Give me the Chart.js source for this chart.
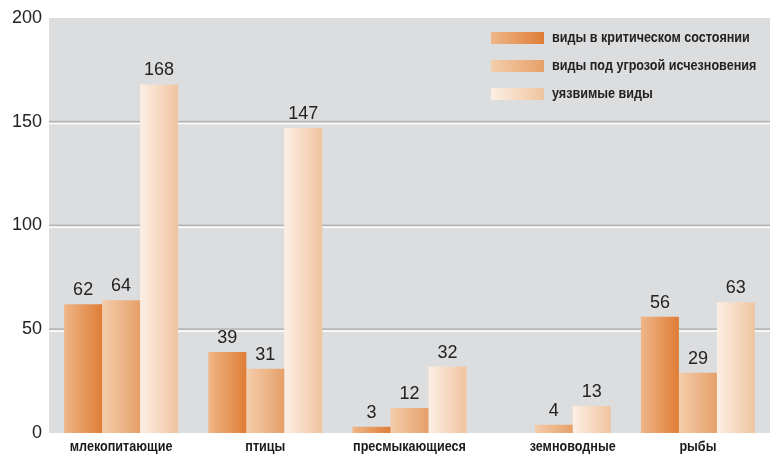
<!DOCTYPE html>
<html>
<head>
<meta charset="utf-8">
<script src="https://cdn.jsdelivr.net/npm/chart.js@4/dist/chart.umd.min.js"></script>
<style>
html,body{margin:0;padding:0;background:#fff;}
#wrap{width:777px;height:456px;position:relative;}
</style>
</head>
<body>
<div id="wrap"><canvas id="c" width="777" height="456"></canvas></div>
<script>
const categories = ['млекопитающие', 'птицы', 'пресмыкающиеся', 'земноводные', 'рыбы'];
const seriesNames = ['виды в критическом состоянии', 'виды под угрозой исчезновения', 'уязвимые виды'];
const critical = [62, 39, 3, null, 56];
const endangered = [64, 31, 12, 4, 29];
const vulnerable = [168, 147, 32, 13, 63];
const yTicks = [0, 50, 100, 150, 200];

const gradStops = [
  ['#EFB688', '#DF7D36'],
  ['#F4CDAC', '#E6A068'],
  ['#FCEFE4', '#EFC49F']
];
const CAT_PCT = 0.79;
const regFont = "'Liberation Sans', Arial, sans-serif";
const NARROW = 0.84;

function barGradient(c) {
  if (c.type !== 'data') return gradStops[c.datasetIndex][1];
  const chart = c.chart;
  const xs = chart.scales.x;
  if (!xs || !chart.chartArea) return gradStops[c.datasetIndex][1];
  const center = xs.getPixelForValue(c.dataIndex);
  const catW = xs.width / categories.length;
  const barW = catW * CAT_PCT / 3;
  const left = center - 1.5 * barW + c.datasetIndex * barW;
  const g = chart.ctx.createLinearGradient(left, 0, left + barW, 0);
  g.addColorStop(0, gradStops[c.datasetIndex][0]);
  g.addColorStop(1, gradStops[c.datasetIndex][1]);
  return g;
}

function narrowText(ctx, text, x, y, align) {
  const w = ctx.measureText(text).width * NARROW;
  let left = x;
  if (align === 'center') left = x - w / 2;
  ctx.save();
  ctx.translate(left, y);
  ctx.scale(NARROW, 1);
  ctx.textAlign = 'left';
  ctx.fillText(text, 0, 0);
  ctx.restore();
}

const bgPlugin = {
  id: 'bgPlugin',
  beforeDraw(chart) {
    const {ctx, chartArea: a} = chart;
    ctx.save();
    ctx.fillStyle = '#DCDDDF';
    ctx.fillRect(a.left, a.top, a.right - a.left, a.bottom - a.top);
    const ys = chart.scales.y;
    yTicks.forEach(v => {
      if (v === 0 || v === 200) return;
      const y = ys.getPixelForValue(v);
      ctx.fillStyle = '#B6B7B9';
      ctx.fillRect(a.left, y - 1, a.right - a.left, 2);
      ctx.fillStyle = '#FFFFFF';
      ctx.fillRect(a.left, y + 1, a.right - a.left, 1.5);
    });
    ctx.restore();
  },
  afterDatasetsDraw(chart) {
    const ctx = chart.ctx;
    const a = chart.chartArea;
    ctx.save();
    ctx.font = '18px ' + regFont;
    ctx.fillStyle = '#222';
    ctx.textAlign = 'center';
    ctx.textBaseline = 'middle';
    chart.data.datasets.forEach((ds, di) => {
      const meta = chart.getDatasetMeta(di);
      meta.data.forEach((el, i) => {
        const v = ds.data[i];
        if (v === null || v === undefined) return;
        ctx.fillText(String(v), el.x, el.y - 14);
      });
    });
    // category labels, centred over the bars that are present
    ctx.font = 'bold 15px ' + regFont;
    ctx.fillStyle = '#1a1a1a';
    categories.forEach((cat, i) => {
      let lo = Infinity, hi = -Infinity;
      chart.data.datasets.forEach((ds, di) => {
        const v = ds.data[i];
        if (v === null || v === undefined) return;
        const el = chart.getDatasetMeta(di).data[i];
        lo = Math.min(lo, el.x - el.width / 2);
        hi = Math.max(hi, el.x + el.width / 2);
      });
      narrowText(ctx, cat, (lo + hi) / 2, a.bottom + 14, 'center');
    });
    // legend
    const bx = a.right - 279, by0 = a.top + 14, rowH = 28;
    ctx.font = 'bold 15px ' + regFont;
    seriesNames.forEach((name, i) => {
      const y = by0 + i * rowH;
      const g = ctx.createLinearGradient(bx, 0, bx + 53, 0);
      g.addColorStop(0, gradStops[i][0]);
      g.addColorStop(1, gradStops[i][1]);
      ctx.fillStyle = g;
      ctx.fillRect(bx, y, 53, 12);
      ctx.fillStyle = '#222';
      narrowText(ctx, name, bx + 61, y + 6, 'left');
    });
    ctx.restore();
  }
};

new Chart(document.getElementById('c'), {
  type: 'bar',
  data: {
    labels: categories,
    datasets: [
      {label: seriesNames[0], data: critical, backgroundColor: barGradient},
      {label: seriesNames[1], data: endangered, backgroundColor: barGradient},
      {label: seriesNames[2], data: vulnerable, backgroundColor: barGradient}
    ]
  },
  options: {
    responsive: false,
    animation: false,
    devicePixelRatio: 1,
    layout: {padding: {top: 18, right: 7, left: 0, bottom: 0}},
    datasets: {bar: {categoryPercentage: CAT_PCT, barPercentage: 1.0, borderWidth: 0, skipNull: false}},
    plugins: {legend: {display: false}, tooltip: {enabled: false}},
    scales: {
      x: {
        grid: {display: false},
        border: {display: false},
        ticks: {display: false},
        afterFit(s) { s.height = 23; }
      },
      y: {
        min: 0, max: 200,
        afterBuildTicks(s) { s.ticks = yTicks.map(v => ({value: v})); },
        grid: {display: false, drawTicks: false},
        border: {display: false},
        ticks: {font: {family: regFont, size: 18}, color: '#222', padding: 7},
        afterFit(s) { s.width = 49; }
      }
    }
  },
  plugins: [bgPlugin]
});
</script>
</body>
</html>
